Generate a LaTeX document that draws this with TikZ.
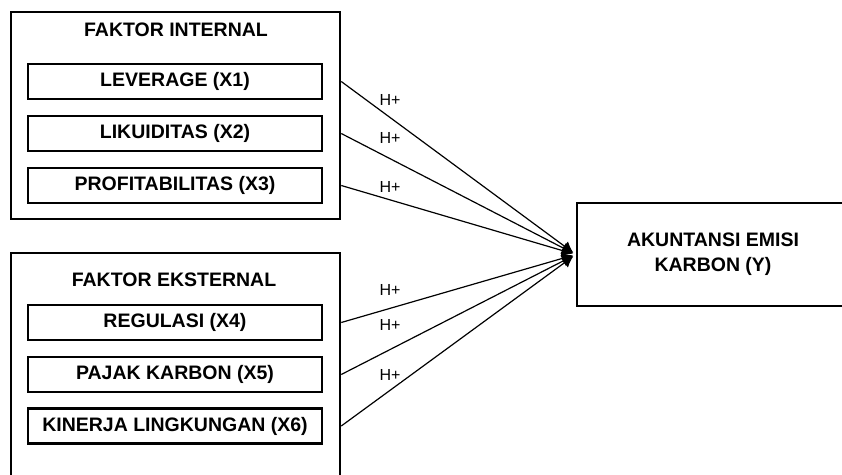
\documentclass[tikz,border=0pt]{standalone}
\usepackage{fontspec}
\setmainfont{Liberation Sans}
\usetikzlibrary{arrows.meta}

\begin{document}
\begin{tikzpicture}[
  x=1pt,
  y=-1pt,
  groupbox/.style={draw=black, line width=2.5pt, minimum width=329pt, inner sep=0pt},
  grouptitle/.style={font=\bfseries\fontsize{19.5}{22}\selectfont, inner sep=0pt},
  varbox/.style={draw=black, line width=2.5pt, minimum width=294pt, minimum height=35pt,
    inner sep=0pt, font=\bfseries\fontsize{19.5}{22}\selectfont},
  targetbox/.style={draw=black, line width=2.5pt, minimum width=272pt, minimum height=103pt,
    align=center, inner sep=0pt, font=\bfseries\fontsize{19.5}{25}\selectfont},
  hyplink/.style={draw=black, line width=1.2pt, shorten >=3pt,
    -{Latex[length=11pt, width=12pt]}},
  hyplabel/.style={fill=white, inner sep=1pt, font=\fontsize{16}{18}\selectfont}
]
  \clip (0,0) rectangle (842,474);

  % kelompok faktor
  \node[groupbox, minimum height=207pt] (intbox) at (175.5,115.5) {};
  \node[groupbox, minimum height=247pt] (extbox) at (175.5,376.5) {};
  \node[grouptitle] (inttitle) at (176,30) {FAKTOR INTERNAL};
  \node[grouptitle] (exttitle) at (174,280) {FAKTOR EKSTERNAL};

  % variabel
  \node[varbox] (lev) at (175,81.5) {LEVERAGE (X1)};
  \node[varbox] (lik) at (175,133.5) {LIKUIDITAS (X2)};
  \node[varbox] (pro) at (175,185.5) {PROFITABILITAS (X3)};
  \node[varbox] (reg) at (175,322.5) {REGULASI (X4)};
  \node[varbox] (paj) at (175,374.5) {PAJAK KARBON (X5)};
  \node[varbox] (kin) at (175,426) {KINERJA LINGKUNGAN (X6)};

  \node[targetbox] (akun) at (713,254.5) {AKUNTANSI EMISI\\KARBON (Y)};

  % hipotesis
  \foreach \v/\b in {lev/intbox,lik/intbox,pro/intbox,reg/extbox,paj/extbox,kin/extbox} {
    \draw[hyplink] (\b.east |- \v.east) -- (akun.west);
  }
  \foreach \y in {100,138,187,290,325,375} {
    \node[hyplabel] at (390,\y) {H+};
  }
\end{tikzpicture}
\end{document}
